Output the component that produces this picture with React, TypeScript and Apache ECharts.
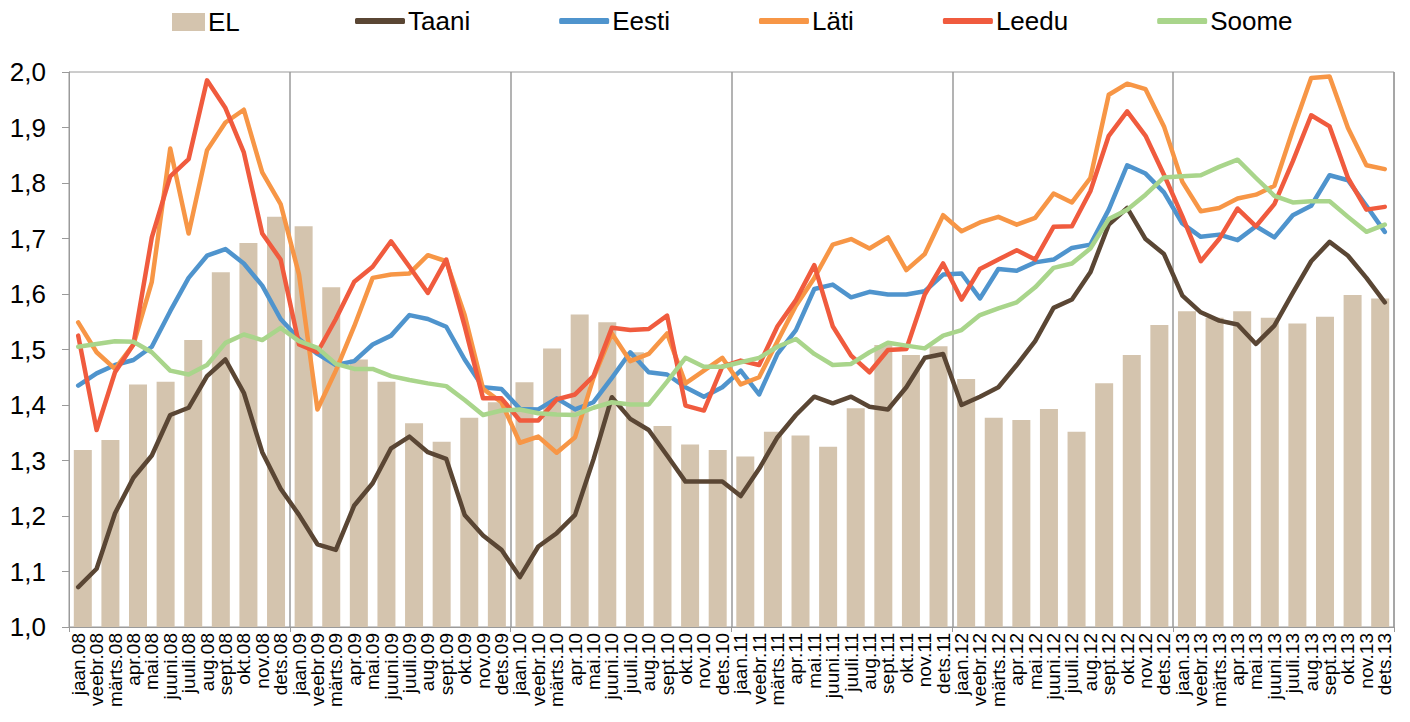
import React, { useEffect, useRef } from "react";
import * as echarts from "echarts";

const monthNames = ["jaan", "veebr", "märts", "apr", "mai", "juuni", "juuli", "aug", "sept", "okt", "nov", "dets"];
const years = ["08", "09", "10", "11", "12", "13"];
const months: string[] = years.flatMap((y) => monthNames.map((m) => `${m}.${y}`));

// EL bars: 8 bars per year on a secondary category axis
const elSlots: string[] = Array.from({ length: 48 }, (_, i) => `EL${i + 1}`);
const elValues = [
  1.319, 1.337, 1.437, 1.442, 1.517, 1.639, 1.692, 1.739,
  1.722, 1.612, 1.482, 1.442, 1.367, 1.334, 1.377, 1.405,
  1.441, 1.502, 1.563, 1.549, 1.495, 1.362, 1.329, 1.319,
  1.307, 1.352, 1.345, 1.325, 1.394, 1.508, 1.49, 1.506,
  1.447, 1.377, 1.373, 1.393, 1.352, 1.439, 1.49, 1.544,
  1.569, 1.557, 1.569, 1.557, 1.547, 1.559, 1.598, 1.592,
];

const taani = [
  1.072, 1.105, 1.205, 1.269, 1.309, 1.382, 1.395, 1.452, 1.482, 1.422, 1.315, 1.249,
  1.202, 1.149, 1.139, 1.219, 1.259, 1.322, 1.343, 1.315, 1.303, 1.202, 1.165, 1.139,
  1.09, 1.145, 1.169, 1.202, 1.302, 1.414, 1.375, 1.355, 1.309, 1.262, 1.262, 1.262,
  1.236, 1.285, 1.342, 1.382, 1.415, 1.403, 1.415, 1.397, 1.392, 1.432, 1.485, 1.492,
  1.4, 1.415, 1.432, 1.472, 1.515, 1.575, 1.59, 1.639, 1.725, 1.755, 1.699, 1.672,
  1.597, 1.567, 1.552, 1.545, 1.51, 1.543, 1.602, 1.659, 1.694, 1.669, 1.629, 1.585,
];

const eesti = [
  1.435, 1.457, 1.472, 1.481, 1.505, 1.569, 1.629, 1.669, 1.681, 1.655, 1.615, 1.555,
  1.519, 1.492, 1.472, 1.479, 1.509, 1.525, 1.562, 1.555, 1.541, 1.482, 1.432, 1.429,
  1.393, 1.392, 1.412, 1.392, 1.405, 1.449, 1.495, 1.459, 1.455, 1.432, 1.415, 1.432,
  1.462, 1.419, 1.492, 1.535, 1.609, 1.617, 1.594, 1.604, 1.599, 1.599, 1.605, 1.635,
  1.637, 1.592, 1.645, 1.642, 1.657, 1.662, 1.683, 1.689, 1.752, 1.832, 1.817, 1.783,
  1.727, 1.703, 1.707, 1.697, 1.722, 1.702, 1.742, 1.759, 1.814, 1.805, 1.759, 1.712,
];

const lati = [
  1.549, 1.495, 1.465, 1.509, 1.622, 1.862, 1.709, 1.859, 1.909, 1.932, 1.819, 1.762,
  1.635, 1.392, 1.462, 1.542, 1.629, 1.635, 1.637, 1.67, 1.659, 1.562, 1.429, 1.405,
  1.332, 1.343, 1.314, 1.342, 1.449, 1.529, 1.479, 1.492, 1.529, 1.439, 1.462, 1.485,
  1.437, 1.45, 1.515, 1.579, 1.629, 1.689, 1.699, 1.682, 1.702, 1.643, 1.672, 1.742,
  1.713, 1.729, 1.739, 1.725, 1.737, 1.781, 1.765, 1.809, 1.959, 1.979, 1.969, 1.902,
  1.802, 1.749, 1.755, 1.772, 1.779, 1.795, 1.895, 1.989, 1.992, 1.899, 1.832, 1.825,
];

const leedu = [
  1.525, 1.355, 1.459, 1.509, 1.702, 1.812, 1.843, 1.985, 1.935, 1.855, 1.709, 1.662,
  1.509, 1.495, 1.555, 1.622, 1.649, 1.695, 1.649, 1.602, 1.662, 1.542, 1.412, 1.412,
  1.372, 1.372, 1.41, 1.419, 1.452, 1.539, 1.535, 1.537, 1.561, 1.399, 1.39, 1.469,
  1.48, 1.472, 1.542, 1.589, 1.652, 1.542, 1.489, 1.459, 1.499, 1.501, 1.599, 1.655,
  1.59, 1.645, 1.662, 1.679, 1.662, 1.721, 1.722, 1.785, 1.885, 1.929, 1.885, 1.815,
  1.74, 1.659, 1.699, 1.754, 1.722, 1.762, 1.839, 1.922, 1.902, 1.809, 1.752, 1.757,
];

const soome = [
  1.505, 1.51, 1.515, 1.514, 1.495, 1.462, 1.455, 1.472, 1.512, 1.527, 1.517, 1.539,
  1.515, 1.503, 1.474, 1.465, 1.465, 1.452, 1.445, 1.439, 1.434, 1.409, 1.382, 1.39,
  1.392, 1.385, 1.383, 1.382, 1.395, 1.405, 1.401, 1.401, 1.442, 1.485, 1.469, 1.469,
  1.477, 1.485, 1.505, 1.519, 1.492, 1.472, 1.474, 1.495, 1.512, 1.507, 1.502, 1.525,
  1.535, 1.562, 1.574, 1.585, 1.612, 1.647, 1.655, 1.682, 1.735, 1.752, 1.779, 1.81,
  1.812, 1.814, 1.829, 1.842, 1.809, 1.777, 1.765, 1.767, 1.767, 1.739, 1.712, 1.725,
];

const FONT = "Liberation Sans, Arial, sans-serif";
const AXIS_COLOR = "#9a9a9a";

const lineSeries = (name: string, data: number[], color: string) => ({
  name,
  type: "line",
  xAxisIndex: 0,
  yAxisIndex: 0,
  data,
  symbol: "none",
  showSymbol: false,
  smooth: false,
  lineStyle: { width: 4.5, color, cap: "round", join: "round" },
  itemStyle: { color },
  z: 3,
});

export default function App() {
  const ref = useRef<HTMLDivElement>(null);
  useEffect(() => {
    if (!ref.current) return;
    const chart = echarts.init(ref.current, undefined, { renderer: "svg" });
    chart.setOption({
      animation: false,
      backgroundColor: "#ffffff",
      textStyle: { fontFamily: FONT, color: "#000" },
      legend: [
        {
          data: [{ name: "EL", icon: "rect" }],
          left: 167,
          top: 4,
          itemWidth: 33,
          itemHeight: 18,
          textStyle: { fontSize: 26, color: "#000", fontFamily: FONT, padding: [0, 0, 0, -2] },
        },
        {
          data: ["Taani", "Eesti", "Läti", "Leedu", "Soome"].map((n) => ({ name: n, icon: "roundRect" })),
          left: 350,
          top: 3,
          itemWidth: 50,
          itemHeight: 6,
          itemGap: 89,
          textStyle: { fontSize: 26, color: "#000", fontFamily: FONT, padding: [0, 0, 0, -2] },
        },
      ],
      grid: { left: 69, right: 16, top: 72, bottom: 95, show: true, borderColor: AXIS_COLOR, borderWidth: 1, containLabel: false },
      xAxis: [
        {
          type: "category",
          data: months,
          boundaryGap: true,
          axisLine: { show: true, lineStyle: { color: AXIS_COLOR, width: 1 } },
          axisTick: { show: true, interval: (i: number) => i % 12 === 0, length: 5, lineStyle: { color: AXIS_COLOR } },
          splitLine: { show: true, interval: (i: number) => i % 12 === 0 && i > 0, lineStyle: { color: AXIS_COLOR, width: 1.5 } },
          axisLabel: { interval: 0, rotate: 90, fontSize: 19, color: "#000", fontFamily: FONT, margin: 6 },
        },
        {
          type: "category",
          data: elSlots,
          boundaryGap: true,
          show: false,
          position: "bottom",
        },
      ],
      yAxis: {
        type: "value",
        min: 1,
        max: 2,
        interval: 0.1,
        axisLine: { show: true, lineStyle: { color: AXIS_COLOR, width: 1 } },
        axisTick: { show: true, length: 7, lineStyle: { color: AXIS_COLOR } },
        splitLine: { show: false },
        axisLabel: {
          fontSize: 26,
          color: "#000",
          fontFamily: FONT,
          margin: 23,
          formatter: (v: number) => v.toFixed(1).replace(".", ","),
        },
      },
      series: [
        {
          name: "EL",
          type: "bar",
          xAxisIndex: 1,
          yAxisIndex: 0,
          data: elValues,
          barWidth: 18,
          itemStyle: { color: "#d4c4ae" },
          z: 2,
        },
        lineSeries("Taani", taani, "#5a4634"),
        lineSeries("Eesti", eesti, "#4f94cd"),
        lineSeries("Läti", lati, "#f79646"),
        lineSeries("Leedu", leedu, "#f05b3e"),
        lineSeries("Soome", soome, "#a9d58b"),
      ],
    });
    return () => chart.dispose();
  }, []);
  return <div ref={ref} style={{ position: "absolute", left: 0, top: 0, width: 1410, height: 722 }} />;
}
